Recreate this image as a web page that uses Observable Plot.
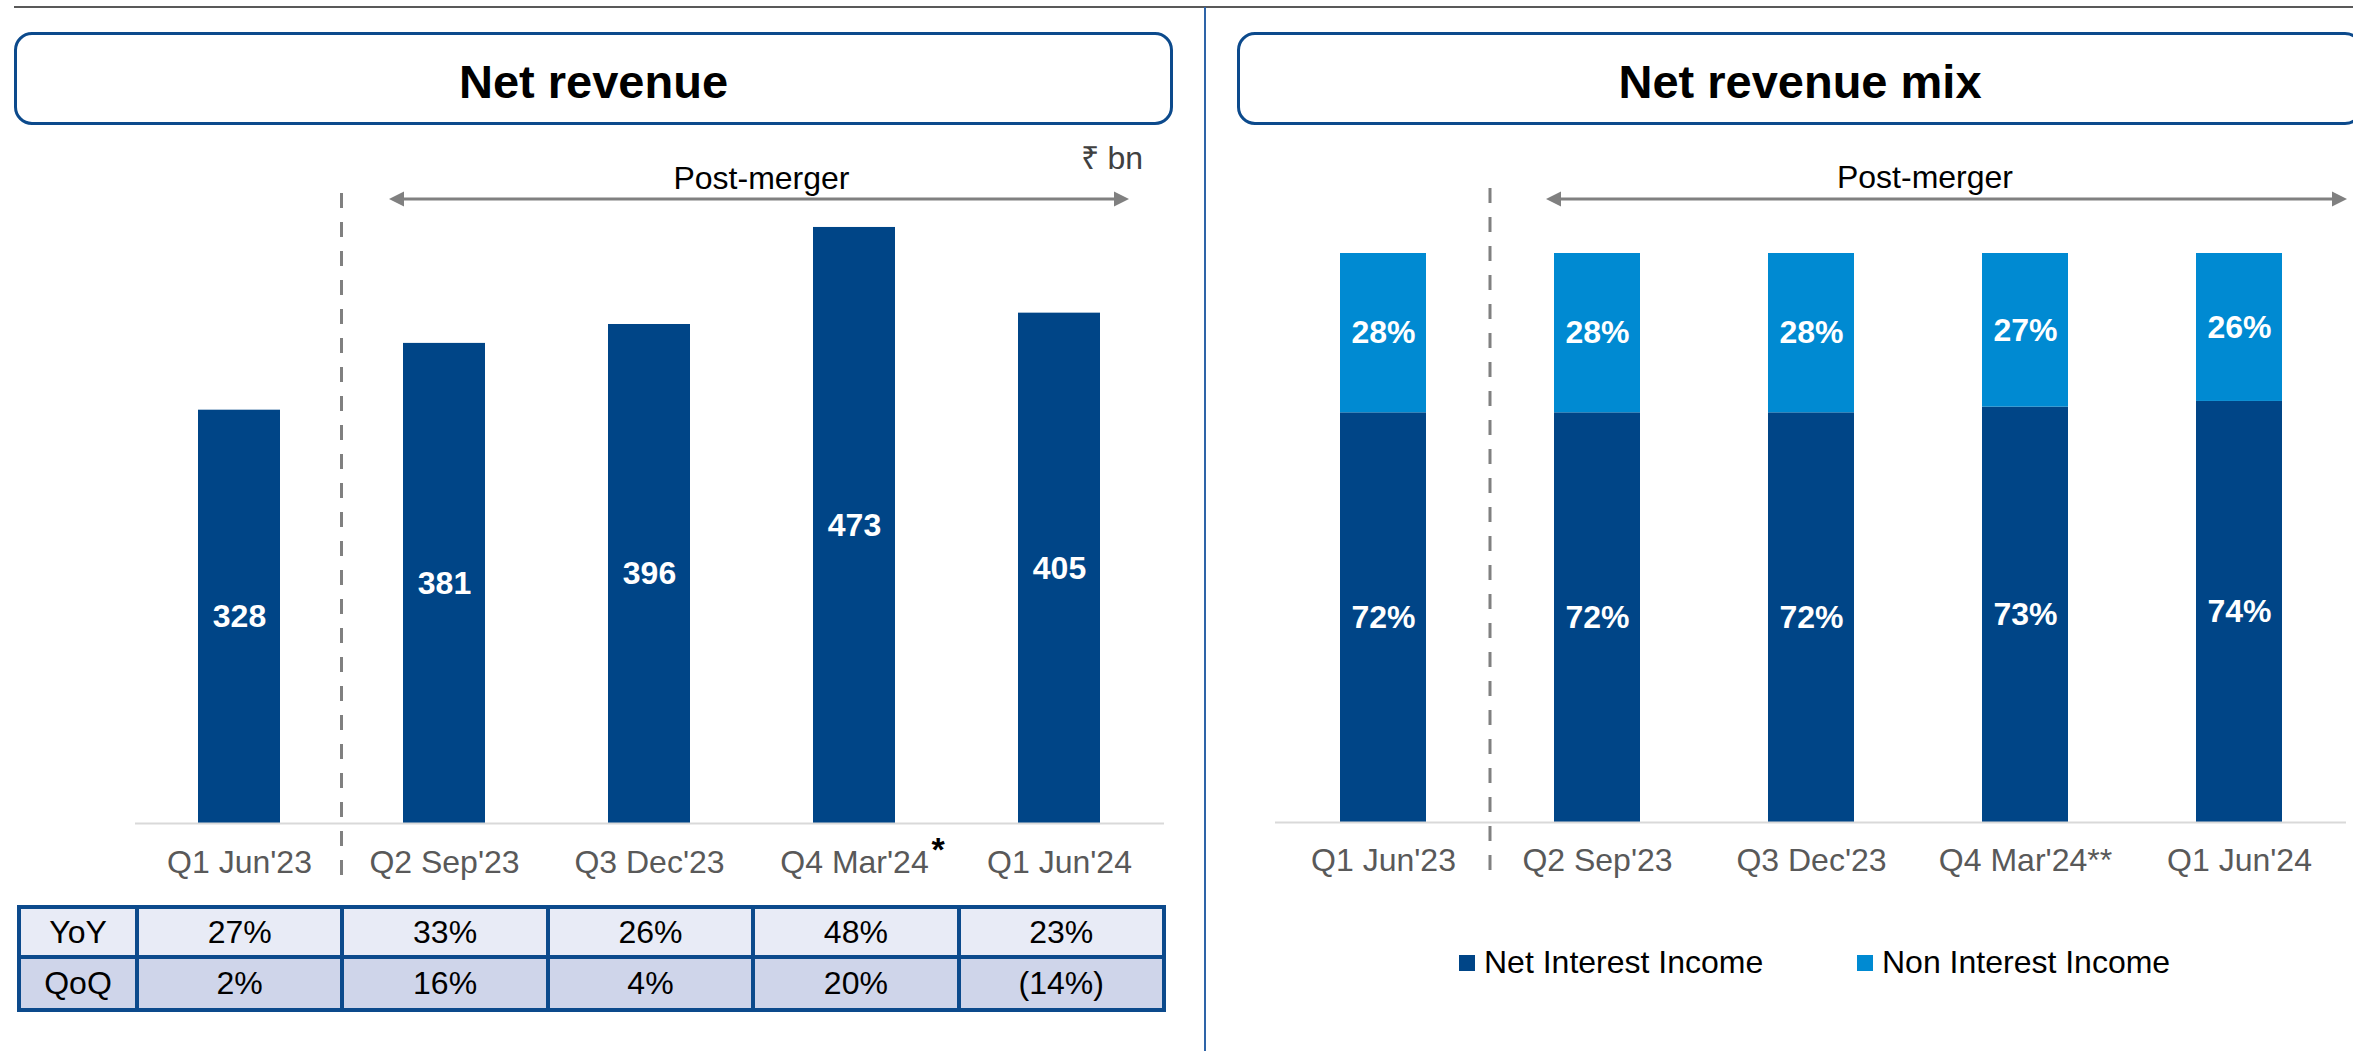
<!DOCTYPE html>
<html><head><meta charset="utf-8">
<script src="https://cdn.jsdelivr.net/npm/d3@7"></script>
<script src="https://cdn.jsdelivr.net/npm/@observablehq/plot@0.6"></script>
<style>
html,body{margin:0;padding:0;background:#fff;}
#root{position:relative;width:2353px;height:1051px;overflow:hidden;font-family:"Liberation Sans",Arial,sans-serif;}
.abs{position:absolute;}
.titlebox{position:absolute;top:32px;height:93px;box-sizing:border-box;border:3px solid #0c4a8c;border-radius:18px;display:flex;align-items:center;justify-content:center;font-weight:bold;font-size:47px;color:#000;padding-top:5px;}
.txt{position:absolute;font-size:32px;line-height:32px;white-space:nowrap;}
.plotwrap{position:absolute;top:0;}
.grid{position:absolute;display:grid;background:#0c4a8c;padding:4px;gap:4px;box-sizing:border-box;}
.cell{display:flex;align-items:center;justify-content:center;font-size:32px;color:#000;}
</style></head>
<body><div id="root"></div>
<script>
// ---------- data ----------
const quarters = ["Q1 Jun'23", "Q2 Sep'23", "Q3 Dec'23", "Q4 Mar'24", "Q1 Jun'24"];
const netRevenue = [328, 381, 396, 473, 405];
const yoyGrowth = ["27%", "33%", "26%", "48%", "23%"];
const qoqGrowth = ["2%", "16%", "4%", "20%", "(14%)"];
const tableRowLabels = ["YoY", "QoQ"];
const niiShare = [72, 72, 72, 73, 74];
const nonIiShare = [28, 28, 28, 27, 26];
const mixTickLabels = ["Q1 Jun'23", "Q2 Sep'23", "Q3 Dec'23", "Q4 Mar'24**", "Q1 Jun'24"];
const revenueNotes = [{quarter: "Q4 Mar'24", note: "*"}];
const incomeTypes = ["Net Interest Income", "Non Interest Income"];
const titles = ["Net revenue", "Net revenue mix"];
const unitLabel = "₹ bn";
const periodLabel = "Post-merger";

// ---------- styles ----------
const FONT = "'Liberation Sans', Arial, sans-serif";
const DARK = "#004587";
const LIGHT = "#008ad2";
const GREY = "#808080";

const root = document.getElementById("root");
function el(tag, cls, css, text) {
  const e = document.createElement(tag);
  if (cls) e.className = cls;
  Object.assign(e.style, css || {});
  if (text != null) e.textContent = text;
  root.appendChild(e);
  return e;
}

// frame lines
el("div", "abs", {left: "14px", top: "6px", width: "2339px", height: "2px", background: "#595959"});
el("div", "abs", {left: "1204px", top: "7px", width: "1.5px", height: "1044px", background: "#2e64a8"});

// title boxes
el("div", "titlebox", {left: "14px", width: "1159px"}, titles[0]);
el("div", "titlebox", {left: "1237px", width: "1126px"}, titles[1]);

// annotation mark: pre/post merger divider + double arrow
function postMerger(cfg) {
  return (index, scales) => {
    const x = scales.x;
    const bw = x.bandwidth();
    const first = x(quarters[0]), second = x(quarters[1]), last = x(quarters[quarters.length - 1]);
    const divX = (first + bw + second) / 2;
    const ax1 = second - cfg.leftPad, ax2 = last + bw + cfg.rightPad;
    const g = d3.create("svg:g");
    g.append("line").attr("x1", divX).attr("x2", divX).attr("y1", cfg.divTop).attr("y2", cfg.divBottom)
      .attr("stroke", GREY).attr("stroke-width", 3).attr("stroke-dasharray", "15,14");
    g.append("line").attr("x1", ax1 + 12).attr("x2", ax2 - 12).attr("y1", cfg.arrowY).attr("y2", cfg.arrowY)
      .attr("stroke", GREY).attr("stroke-width", 3);
    g.append("path").attr("d", `M${ax1},${cfg.arrowY}L${ax1 + 15},${cfg.arrowY - 7.5}L${ax1 + 15},${cfg.arrowY + 7.5}Z`).attr("fill", GREY);
    g.append("path").attr("d", `M${ax2},${cfg.arrowY}L${ax2 - 15},${cfg.arrowY - 7.5}L${ax2 - 15},${cfg.arrowY + 7.5}Z`).attr("fill", GREY);
    g.append("text").attr("x", (second + last + bw) / 2 + cfg.textDx).attr("y", cfg.textY)
      .attr("text-anchor", "middle").attr("font-size", 32).attr("fill", "#000").text(periodLabel);
    return g.node();
  };
}

// ---------- left chart: net revenue ----------
const revData = quarters.map((q, i) => ({quarter: q, value: netRevenue[i]}));
const left = Plot.plot({
  width: 1204, height: 900,
  marginLeft: 135, marginRight: 40, marginTop: 200, marginBottom: 77,
  x: {domain: quarters, paddingInner: 0.6, paddingOuter: 0.3, tickSize: 0, tickPadding: 27, label: null},
  y: {domain: [0, 494.4], axis: null},
  style: {fontFamily: FONT, fontSize: "32px", color: "#595959", background: "transparent", overflow: "visible"},
  marks: [
    Plot.barY(revData, {x: "quarter", y: "value", fill: DARK}),
    Plot.ruleY([0], {stroke: "#d9d9d9", strokeWidth: 2}),
    Plot.text(revData, {x: "quarter", y: d => d.value / 2, text: d => String(d.value), fill: "white", fontSize: 32, fontWeight: "bold"}),
    Plot.text(revenueNotes, {x: "quarter", y: 0, text: "note", dx: 77, dy: 27, textAnchor: "start", fill: "#000", fontSize: 34, fontWeight: "bold"}),
    postMerger({leftPad: 14, rightPad: 29, arrowY: 199, textY: 189, textDx: 10, divTop: 193, divBottom: 880})
  ]
});
const lw = el("div", "plotwrap", {left: "0px"});
lw.appendChild(left);

// unit label
el("div", "txt", {right: "1210px", top: "142px", color: "#404040", textAlign: "right"}, unitLabel);

// growth table
const table = el("div", "grid", {left: "17px", top: "905px", width: "1149px", height: "107px",
  gridTemplateColumns: "114px repeat(5, 1fr)", gridTemplateRows: "46px 1fr"});
[yoyGrowth, qoqGrowth].forEach((row, r) => {
  const bg = r === 0 ? "#e8ebf6" : "#cfd5ea";
  const c0 = document.createElement("div"); c0.className = "cell"; c0.style.background = bg; c0.textContent = tableRowLabels[r]; table.appendChild(c0);
  row.forEach(v => {
    const c = document.createElement("div"); c.className = "cell"; c.style.background = bg; c.textContent = v; table.appendChild(c);
  });
});

// ---------- right chart: net revenue mix ----------
const mixData = [];
quarters.forEach((q, i) => {
  mixData.push({quarter: q, type: incomeTypes[0], value: niiShare[i]});
  mixData.push({quarter: q, type: incomeTypes[1], value: nonIiShare[i]});
});
const tickMap = new Map(quarters.map((q, i) => [q, mixTickLabels[i]]));
const right = Plot.plot({
  width: 1149, height: 900,
  marginLeft: 71, marginRight: 7, marginTop: 253, marginBottom: 78,
  x: {domain: quarters, paddingInner: 0.6, paddingOuter: 0.3, tickSize: 0, tickPadding: 26, label: null, tickFormat: d => tickMap.get(d)},
  y: {domain: [0, 100], axis: null},
  color: {domain: incomeTypes, range: [DARK, LIGHT]},
  style: {fontFamily: FONT, fontSize: "32px", color: "#595959", background: "transparent", overflow: "visible"},
  marks: [
    Plot.barY(mixData, {x: "quarter", y: "value", fill: "type"}),
    Plot.ruleY([0], {stroke: "#d9d9d9", strokeWidth: 2}),
    Plot.text(mixData, Plot.stackY({x: "quarter", y: "value", text: d => d.value + "%", fill: "white", fontSize: 32, fontWeight: "bold"})),
    postMerger({leftPad: 8, rightPad: 65, arrowY: 199, textY: 188, textDx: 7, divTop: 188, divBottom: 873})
  ]
});
const rw = el("div", "plotwrap", {left: "1204px"});
rw.appendChild(right);

// legend
const legendX = [1459, 1857];
incomeTypes.forEach((t, i) => {
  el("div", "abs", {left: legendX[i] + "px", top: "955px", width: "16px", height: "16px", background: [DARK, LIGHT][i]});
  el("div", "txt", {left: (legendX[i] + 25) + "px", top: "946px", color: "#000"}, t);
});
</script>
</body></html>
